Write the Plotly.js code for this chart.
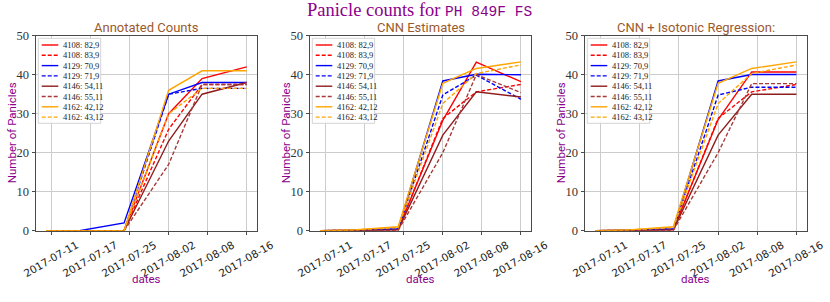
<!DOCTYPE html>
<html><head><meta charset="utf-8">
<script src="https://cdn.plot.ly/plotly-3.0.1.min.js"></script>
<style>html,body{margin:0;padding:0;background:#fff}#chart{width:830px;height:302px}</style>
</head><body><div id="chart"></div>
<script>
// ---- data ----
const dates = ['2017-07-10','2017-07-16','2017-07-24','2017-08-01','2017-08-07','2017-08-15'];
const tickDates = ['2017-07-11','2017-07-18','2017-07-25','2017-08-01','2017-08-08','2017-08-15'];
const tickLabels = ['2017-07-11','2017-07-17','2017-07-25','2017-08-02','2017-08-08','2017-08-16'];
const yTicks = [0,10,20,30,40,50];
const seriesNames = ['4108: 82,9','4108: 83,9','4129: 70,9','4129: 71,9','4146: 54,11','4146: 55,11','4162: 42,12','4162: 43,12'];
const panelTitles = ['Annotated Counts','CNN Estimates','CNN + Isotonic Regression:'];

// Annotated counts
const ann_4108_82 = [0,0,0,30,39,42];
const ann_4108_83 = [0,0,0,26,37.5,37.5];
const ann_4129_70 = [0,0,2,35,38,38];
const ann_4129_71 = [0,0,0,35,36.5,36.5];
const ann_4146_54 = [0,0,0,23,35,38];
const ann_4146_55 = [0,0,0,17,37.5,37.5];
const ann_4162_42 = [0,0,0,36,41,41];
const ann_4162_43 = [0,0,0,30,36.5,36.5];

// CNN estimates
const cnn_4108_82 = [0,0.1,0.3,28.3,43.2,38.2];
const cnn_4108_83 = [0,0.1,0.2,28.8,35.6,37.5];
const cnn_4129_70 = [0,0.1,0.5,38.4,40.1,40.0];
const cnn_4129_71 = [0,0.1,0.4,34.8,39.9,33.7];
const cnn_4146_54 = [0,0,0.2,24.5,35.6,34.3];
const cnn_4146_55 = [0,0,0.1,20.0,40.0,35.4];
const cnn_4162_42 = [0,0.2,1.0,37.8,41.6,43.3];
const cnn_4162_43 = [0,0.2,0.8,32.6,40.3,42.5];

// CNN + isotonic regression
const iso_4108_82 = [0,0.1,0.3,28.5,40.7,40.7];
const iso_4108_83 = [0,0.1,0.2,28.8,35.6,37.5];
const iso_4129_70 = [0,0.1,0.5,38.4,40.05,40.05];
const iso_4129_71 = [0,0.1,0.4,34.8,36.8,36.8];
const iso_4146_54 = [0,0,0.2,24.5,35.0,35.0];
const iso_4146_55 = [0,0,0.1,20.0,37.7,37.7];
const iso_4162_42 = [0,0.2,1.0,37.8,41.6,43.3];
const iso_4162_43 = [0,0.2,0.8,32.6,40.3,42.5];

const annotatedValues = [ann_4108_82,ann_4108_83,ann_4129_70,ann_4129_71,ann_4146_54,ann_4146_55,ann_4162_42,ann_4162_43];
const cnnValues = [cnn_4108_82,cnn_4108_83,cnn_4129_70,cnn_4129_71,cnn_4146_54,cnn_4146_55,cnn_4162_42,cnn_4162_43];
const isoValues = [iso_4108_82,iso_4108_83,iso_4129_70,iso_4129_71,iso_4146_54,iso_4146_55,iso_4162_42,iso_4162_43];
const panelValues = [annotatedValues, cnnValues, isoValues];

// ---- styles ----
const seriesColors = ['#ff0000','#ff0000','#0000ff','#0000ff','#8f1d1d','#a83a3a','#ffa500','#ffa500'];
const seriesDash = ['solid','4px,2px','solid','4px,2px','solid','4px,2px','solid','4px,2px'];
const W = 830, H = 302;
const xDomains = [[36/W,256.7/W],[310/W,531/W],[585/W,806.5/W]];
const yDomain = [1-230.7/H, 1-35.7/H];
const purple = '#8b008b';
const gridColor = '#cccccc';
const frameColor = '#4a4a4a';

const traces = [];
const shapes = [];
const annotations = [];
const layout = {
  width: W, height: H,
  margin: {l:0, r:0, t:0, b:0},
  paper_bgcolor: '#ffffff', plot_bgcolor: '#ffffff',
  showlegend: false,
  font: {family: 'Liberation Sans', color: '#222'},
  title: {
    text: 'Panicle counts for <span style="font-family:Liberation Mono;font-size:14.5px">PH 849F FS</span>',
    font: {family: 'Liberation Serif', size: 18.5, color: purple},
    x: 419.5/W, xanchor: 'center', y: 1 - 9.5/H, yanchor: 'middle', yref: 'container'
  },
  shapes: shapes,
  annotations: annotations
};

panelValues.forEach((vals, k) => {
  const sfx = k === 0 ? '' : String(k+1);
  vals.forEach((v, i) => {
    traces.push({
      type: 'scatter', mode: 'lines', x: dates, y: v, name: seriesNames[i],
      xaxis: 'x' + sfx, yaxis: 'y' + sfx,
      line: {color: seriesColors[i], dash: seriesDash[i], width: 1.4},
      hoverinfo: 'skip'
    });
  });
  layout['xaxis' + sfx] = {
    domain: xDomains[k], anchor: 'y' + sfx, type: 'date',
    range: ['2017-07-08 04:48', '2017-08-16 19:12'],
    tickmode: 'array', tickvals: tickDates, ticktext: tickLabels,
    tickangle: -30, ticklabelshift: 25,
    tickfont: {family: 'DejaVu Sans', size: 10.5, color: '#222'},
    showgrid: true, gridcolor: gridColor, gridwidth: 1,
    showline: true, mirror: true, linecolor: frameColor, linewidth: 1,
    ticks: 'outside', ticklen: 3.5, tickcolor: frameColor, zeroline: false, fixedrange: true
  };
  layout['yaxis' + sfx] = {
    domain: yDomain, anchor: 'x' + sfx, range: [0, 50],
    tickmode: 'array', tickvals: yTicks, ticktext: yTicks.map(String),
    tickfont: {family: 'Liberation Serif', size: 12.5, color: '#333'},
    showgrid: true, gridcolor: gridColor, gridwidth: 1,
    showline: true, mirror: true, linecolor: frameColor, linewidth: 1,
    ticks: 'outside', ticklen: 3.5, tickcolor: frameColor, zeroline: false, fixedrange: true
  };

  const xr = 'x' + sfx + ' domain', yr = 'y' + sfx + ' domain';
  const pw = (xDomains[k][1]-xDomains[k][0])*W, ph = (yDomain[1]-yDomain[0])*H;
  const fx = p => p/pw, fy = p => 1 - p/ph;

  // panel title
  annotations.push({
    text: panelTitles[k], xref: xr, yref: 'paper', x: 0.5, y: 1 - 27/H,
    xanchor: 'center', yanchor: 'middle', showarrow: false,
    font: {family: 'Roboto', size: 13, color: '#9a5a2c'}
  });
  // axis titles
  annotations.push({
    text: 'Number of Panicles', xref: xr, yref: yr, x: fx(-24), y: 0.5,
    xanchor: 'center', yanchor: 'middle', textangle: -90, showarrow: false,
    font: {family: 'Roboto', size: 11.5, color: purple}
  });
  annotations.push({
    text: 'dates', xref: xr, yref: 'paper', x: 0.5, y: 1 - 279/H,
    xanchor: 'center', yanchor: 'middle', showarrow: false,
    font: {family: 'Roboto', size: 11.5, color: purple}
  });

  // legend box
  shapes.push({
    type: 'rect', xref: xr, yref: yr, x0: fx(2.3), x1: fx(64.7), y0: fy(2.6), y1: fy(87.6),
    line: {color: '#d4d4d4', width: 1}, fillcolor: 'rgba(255,255,255,0.85)', layer: 'above'
  });
  seriesNames.forEach((nm, i) => {
    const yy = fy(9.3 + 10.3*i);
    shapes.push({
      type: 'line', xref: xr, yref: yr, x0: fx(5.7), x1: fx(22.3), y0: yy, y1: yy,
      line: {color: seriesColors[i], dash: seriesDash[i], width: 1.4}, layer: 'above'
    });
    annotations.push({
      text: nm, xref: xr, yref: yr, x: fx(25), y: yy, xanchor: 'left', yanchor: 'middle',
      showarrow: false, font: {family: 'Liberation Serif', size: 8.5, color: '#222'}
    });
  });
});

Plotly.newPlot('chart', traces, layout, {staticPlot: true, displayModeBar: false});
</script>
</body></html>
